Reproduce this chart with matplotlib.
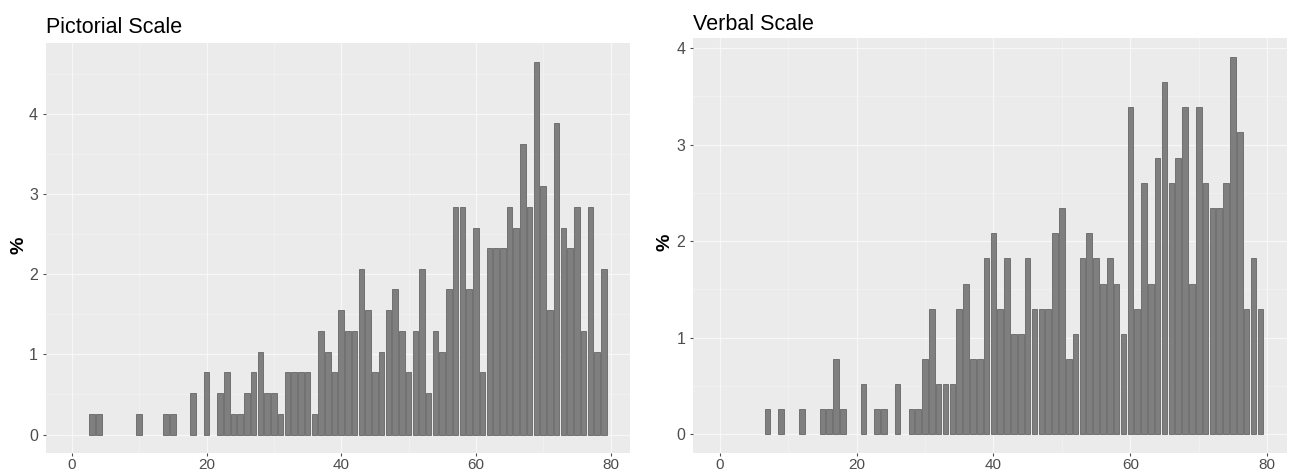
import matplotlib
matplotlib.use('Agg')
import matplotlib.pyplot as plt
from matplotlib.ticker import MultipleLocator

plt.rcParams['font.family'] = ['Liberation Sans', 'DejaVu Sans']

# Pictorial scale: bar positions and heights (%)
pict_x = [3, 4, 10, 14, 15, 18, 20, 22, 23, 24, 25, 26, 27, 28, 29, 30, 31, 32, 33, 34,
          35, 36, 37, 38, 39, 40, 41, 42, 43, 44, 45, 46, 47, 48, 49, 50, 51, 52, 53, 54,
          55, 56, 57, 58, 59, 60, 61, 62, 63, 64, 65, 66, 67, 68, 69, 70, 71, 72, 73, 74,
          75, 76, 77, 78, 79]
pict_pct = [0.26, 0.26, 0.26, 0.26, 0.26, 0.52, 0.78, 0.52, 0.78, 0.26, 0.26, 0.52, 0.78, 1.03,
            0.52, 0.52, 0.26, 0.78, 0.78, 0.78, 0.78, 0.26, 1.29, 1.03, 0.78, 1.55, 1.29, 1.29,
            2.07, 1.55, 0.78, 1.03, 1.55, 1.81, 1.29, 0.78, 1.29, 2.07, 0.52, 1.29, 1.03, 1.81,
            2.84, 2.84, 1.81, 2.58, 0.78, 2.33, 2.33, 2.33, 2.84, 2.58, 3.62, 2.84, 4.65, 3.10,
            1.55, 3.88, 2.58, 2.33, 2.84, 1.29, 2.84, 1.03, 2.07]

# Verbal scale: bar positions and heights (%)
verb_x = [7, 9, 12, 15, 16, 17, 18, 21, 23, 24, 26, 28, 29, 30, 31, 32, 33, 34, 35, 36,
          37, 38, 39, 40, 41, 42, 43, 44, 45, 46, 47, 48, 49, 50, 51, 52, 53, 54, 55, 56,
          57, 58, 59, 60, 61, 62, 63, 64, 65, 66, 67, 68, 69, 70, 71, 72, 73, 74, 75, 76,
          77, 78, 79]
verb_pct = [0.26, 0.26, 0.26, 0.26, 0.26, 0.78, 0.26, 0.52, 0.26, 0.26, 0.52, 0.26, 0.26, 0.78,
            1.30, 0.52, 0.52, 0.52, 1.30, 1.56, 0.78, 0.78, 1.82, 2.08, 1.30, 1.82, 1.04, 1.04,
            1.82, 1.30, 1.30, 1.30, 2.08, 2.34, 0.78, 1.04, 1.82, 2.08, 1.82, 1.56, 1.82, 1.56,
            1.04, 3.39, 1.30, 2.60, 1.56, 2.86, 3.65, 2.60, 2.86, 3.39, 1.56, 3.39, 2.60, 2.34,
            2.34, 2.60, 3.91, 3.13, 1.30, 1.82, 1.30]

titles = ['Pictorial Scale', 'Verbal Scale']
ylims = [(-0.23, 4.88), (-0.195, 4.10)]

fig = plt.figure(figsize=(12.9, 4.74), dpi=100)
ax1 = fig.add_axes([0.0354, 0.0443, 0.4530, 0.8643])
ax2 = fig.add_axes([0.5372, 0.0443, 0.4605, 0.8749])

for ax, xs, ys, yl in [(ax1, pict_x, pict_pct, ylims[0]), (ax2, verb_x, verb_pct, ylims[1])]:
    ax.set_facecolor('#EBEBEB')
    ax.bar(xs, ys, width=0.82, color='#7F7F7F', edgecolor='#666666', linewidth=0.6, zorder=3)
    ax.set_xlim(-3.9, 82.9)
    ax.set_ylim(*yl)
    ax.xaxis.set_major_locator(MultipleLocator(20))
    ax.xaxis.set_minor_locator(MultipleLocator(10))
    ax.yaxis.set_major_locator(MultipleLocator(1))
    ax.yaxis.set_minor_locator(MultipleLocator(0.5))
    ax.grid(which='major', color='#F7F7F7', linewidth=0.9, zorder=0)
    ax.grid(which='minor', color='#F4F4F4', linewidth=0.45, zorder=0)
    ax.set_axisbelow(True)
    for s in ax.spines.values():
        s.set_visible(False)
    ax.tick_params(which='major', length=2.5, width=0.8, color='#4D4D4D',
                   labelcolor='#4D4D4D', labelsize=11.5, pad=3)
    ax.tick_params(axis='x', which='major', labelsize=11, pad=1)
    ax.tick_params(which='minor', length=0)

fig.text(0.0354, 1 - 33 / 474, titles[0], fontsize=15.5, va='baseline', ha='left')
fig.text(0.5372, 1 - 30 / 474, titles[1], fontsize=15.5, va='baseline', ha='left')
fig.text(19 / 1290, 1 - 245 / 474, '%', fontsize=14, fontweight='bold', rotation=90,
         va='center', ha='center')
fig.text(665 / 1290, 1 - 242 / 474, '%', fontsize=14, fontweight='bold', rotation=90,
         va='center', ha='center')

fig.savefig('out.png', dpi=100)
